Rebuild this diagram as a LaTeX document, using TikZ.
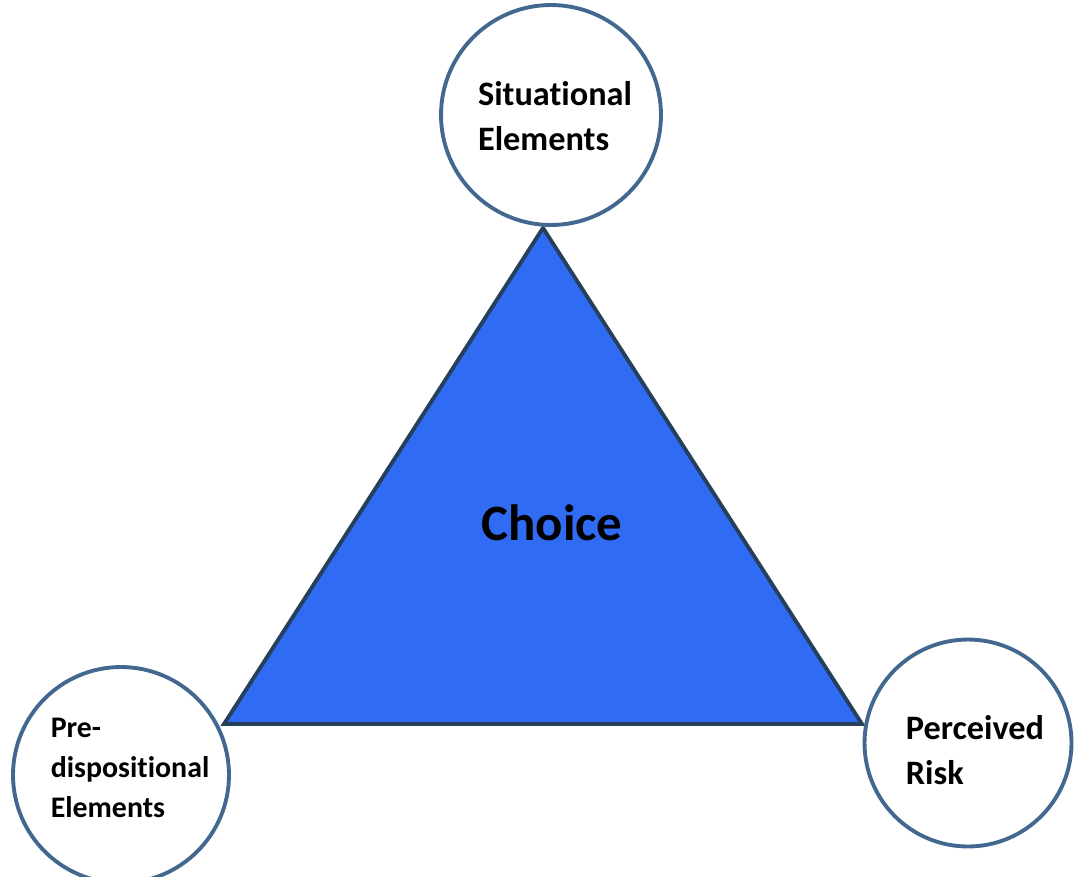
\documentclass[tikz,border=0pt]{standalone}
\usepackage{fontspec}
\setmainfont[Ligatures = NoCommon]{Carlito}
\usepackage{xcolor}
\usepackage{tikz}
\definecolor{choiceBlue}{HTML}{2F6BF3}
\definecolor{edgeNavy}{HTML}{26405C}
\definecolor{ringBlue}{HTML}{42688F}
\tikzset{
	element/.style = {circle, draw = ringBlue, line width = 2.2pt, fill = white, inner sep = 0pt},
	elementlabel/.style = {align = left, inner sep = 0pt, font = \bfseries\fontsize{19.5}{25.5}\selectfont},
	smalllabel/.style = {font = \bfseries\fontsize{17}{22.7}\selectfont}
}

\begin{document}
\begin{tikzpicture}[x = 0.02cm, y = -0.02cm]%

		\useasboundingbox (0, 0) rectangle (1074, 876);

		% triangle
		\coordinate (apex) at (543, 228);
		\coordinate (left) at (224, 724);
		\coordinate (right) at (862, 724);
		\filldraw[fill = choiceBlue, draw = edgeNavy, line width = 2.2pt, line join = miter] (apex) -- (left) -- (right) -- cycle;
		\node[font = \bfseries\fontsize{29}{34}\selectfont] (choice) at (552, 523) {Choice};

		% circles
		\node[element, minimum size = 4.4cm] (situational) at (551, 115) {};
		\node[element, minimum size = 4.32cm] (predispositional) at (121, 775) {};
		\node[element, minimum size = 4.14cm] (risk) at (968, 743) {};

		% texts
		\node[elementlabel] (situational-text) at (555, 116) {Situational\\Elements};
		\node[elementlabel, smalllabel] (predispositional-text) at (130, 768) {Pre-\\dispositional\\Elements};
		\node[elementlabel] (risk-text) at (975, 750) {Perceived\\Risk};

	\end{tikzpicture}
\end{document}
